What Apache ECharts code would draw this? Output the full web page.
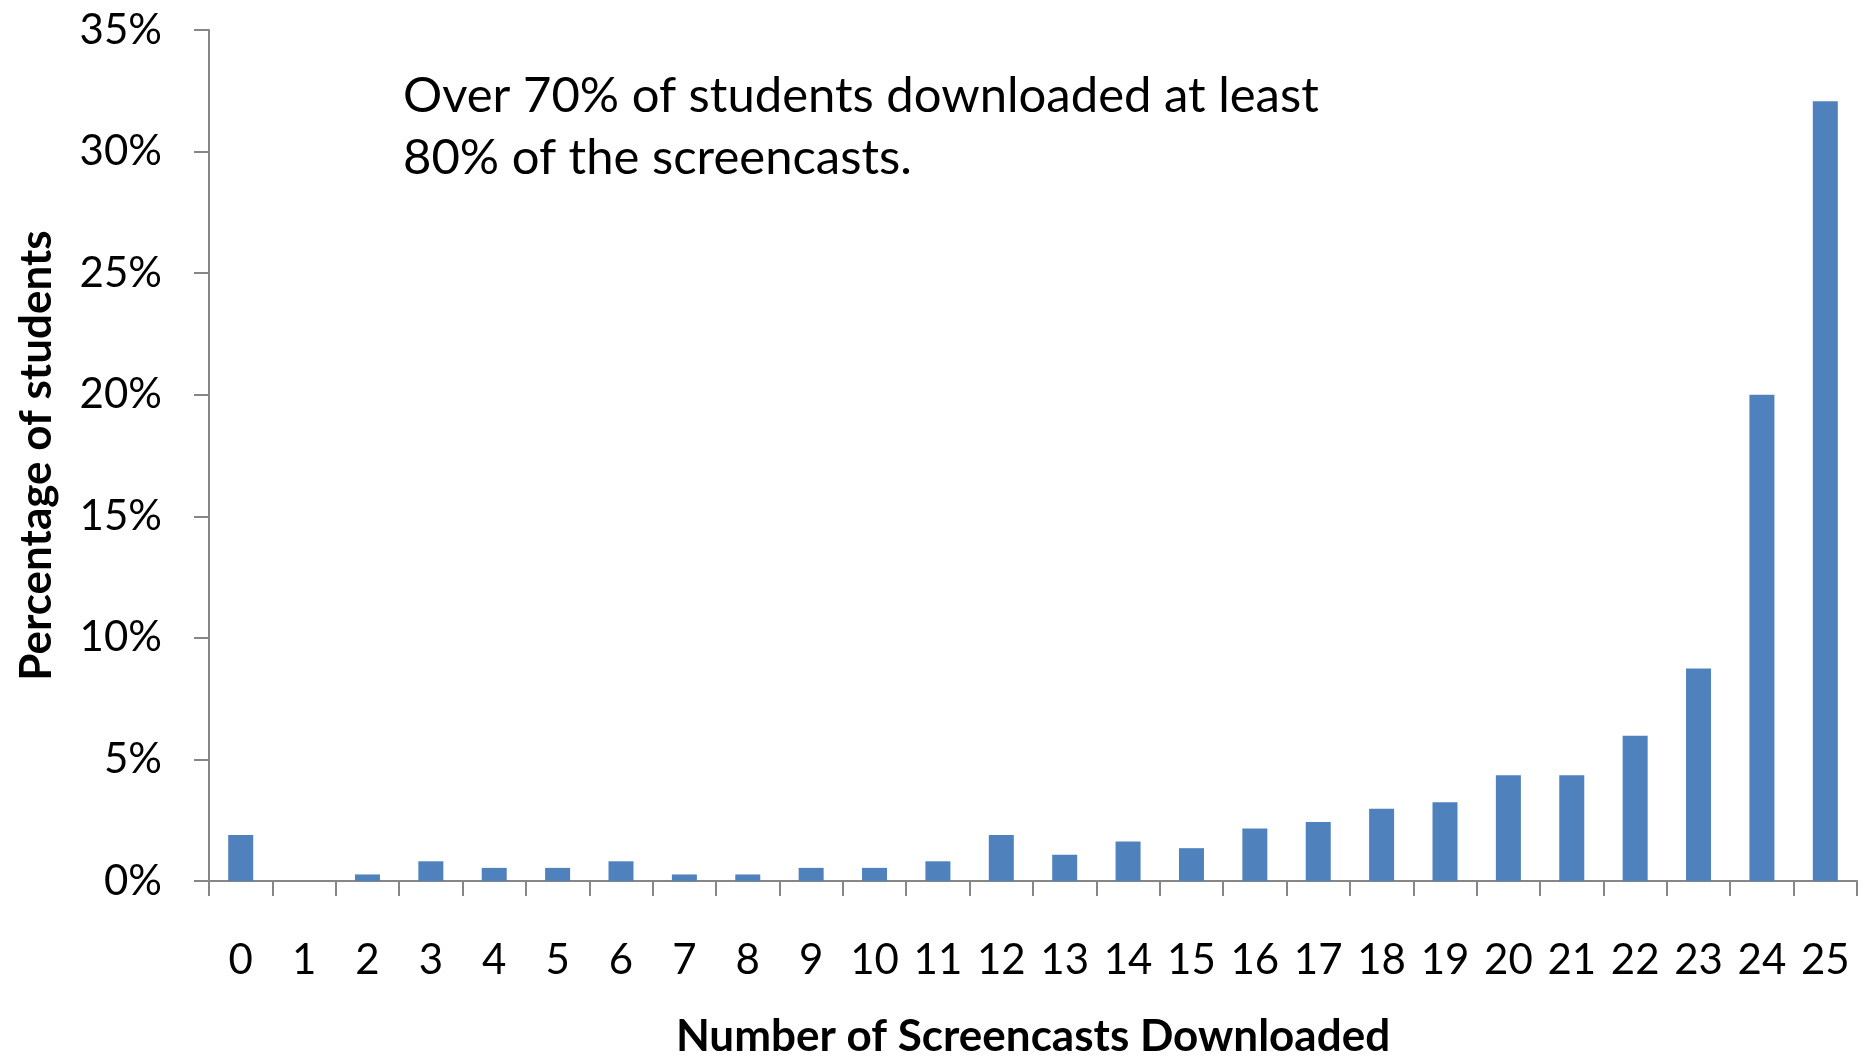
<!DOCTYPE html>
<html>
<head>
<meta charset="utf-8">
<title>Screencasts Downloaded</title>
<script src="https://cdn.jsdelivr.net/npm/echarts@6/dist/echarts.min.js"></script>
<style>
  html, body { margin: 0; padding: 0; background: #ffffff; }
  #chart { width: 1870px; height: 1056px; }
</style>
</head>
<body>
<div id="chart"></div>
<script>
// Number of screencasts each student downloaded (0..25)
const categories = ['0','1','2','3','4','5','6','7','8','9','10','11','12','13','14','15','16','17','18','19','20','21','22','23','24','25'];
// Share of students (%) for each download count
const percentStudents = [1.89, 0, 0.27, 0.81, 0.54, 0.54, 0.81, 0.27, 0.27, 0.54, 0.54, 0.81, 1.89, 1.08, 1.62, 1.35, 2.16, 2.43, 2.97, 3.24, 4.35, 4.35, 5.97, 8.74, 20.0, 32.07];
const yTicks = { min: 0, max: 35, step: 5 };
const noteLines = ['Over 70% of students downloaded at least', '80% of the screencasts.'];

const FONT = 'Lato, "Open Sans", "Noto Sans", sans-serif';
const AXIS_GREY = '#868686';

const chart = echarts.init(document.getElementById('chart'), null, { renderer: 'canvas' });

chart.setOption({
  backgroundColor: '#ffffff',
  animation: false,
  // fixed plot rectangle; axis names sit outside it
  grid: { left: 209, right: 13, top: 30, bottom: 175, containLabel: false, outerBoundsMode: 'none' },
  xAxis: {
    type: 'category',
    data: categories,
    boundaryGap: true,
    name: 'Number of Screencasts Downloaded',
    nameLocation: 'middle',
    nameGap: 134,
    nameTextStyle: { fontFamily: FONT, fontSize: 44, fontWeight: 'bold', color: '#000' },
    axisLine: { lineStyle: { color: AXIS_GREY, width: 2 } },
    axisTick: { show: true, inside: false, length: 15, alignWithLabel: false, lineStyle: { color: AXIS_GREY, width: 2 } },
    axisLabel: { fontFamily: FONT, fontSize: 42, color: '#000', margin: 58, interval: 0 }
  },
  yAxis: {
    type: 'value',
    min: yTicks.min,
    max: yTicks.max,
    interval: yTicks.step,
    name: 'Percentage of students',
    nameLocation: 'middle',
    nameGap: 150,
    nameRotate: 90,
    nameTextStyle: { fontFamily: FONT, fontSize: 44, fontWeight: 'bold', color: '#000' },
    axisLine: { show: true, lineStyle: { color: AXIS_GREY, width: 2 } },
    axisTick: { show: true, inside: false, length: 15, lineStyle: { color: AXIS_GREY, width: 2 } },
    splitLine: { show: false },
    axisLabel: { fontFamily: FONT, fontSize: 42, color: '#000', margin: 47, formatter: '{value}%' }
  },
  series: [{
    type: 'bar',
    data: percentStudents,
    barWidth: 25,
    itemStyle: { color: '#4F81BD' }
  }],
  graphic: [{
    type: 'text',
    left: 403,
    top: 65,
    style: {
      text: noteLines.join('\n'),
      fontFamily: FONT,
      fontSize: 49,
      lineHeight: 62,
      fill: '#000'
    }
  }]
});
</script>
</body>
</html>
